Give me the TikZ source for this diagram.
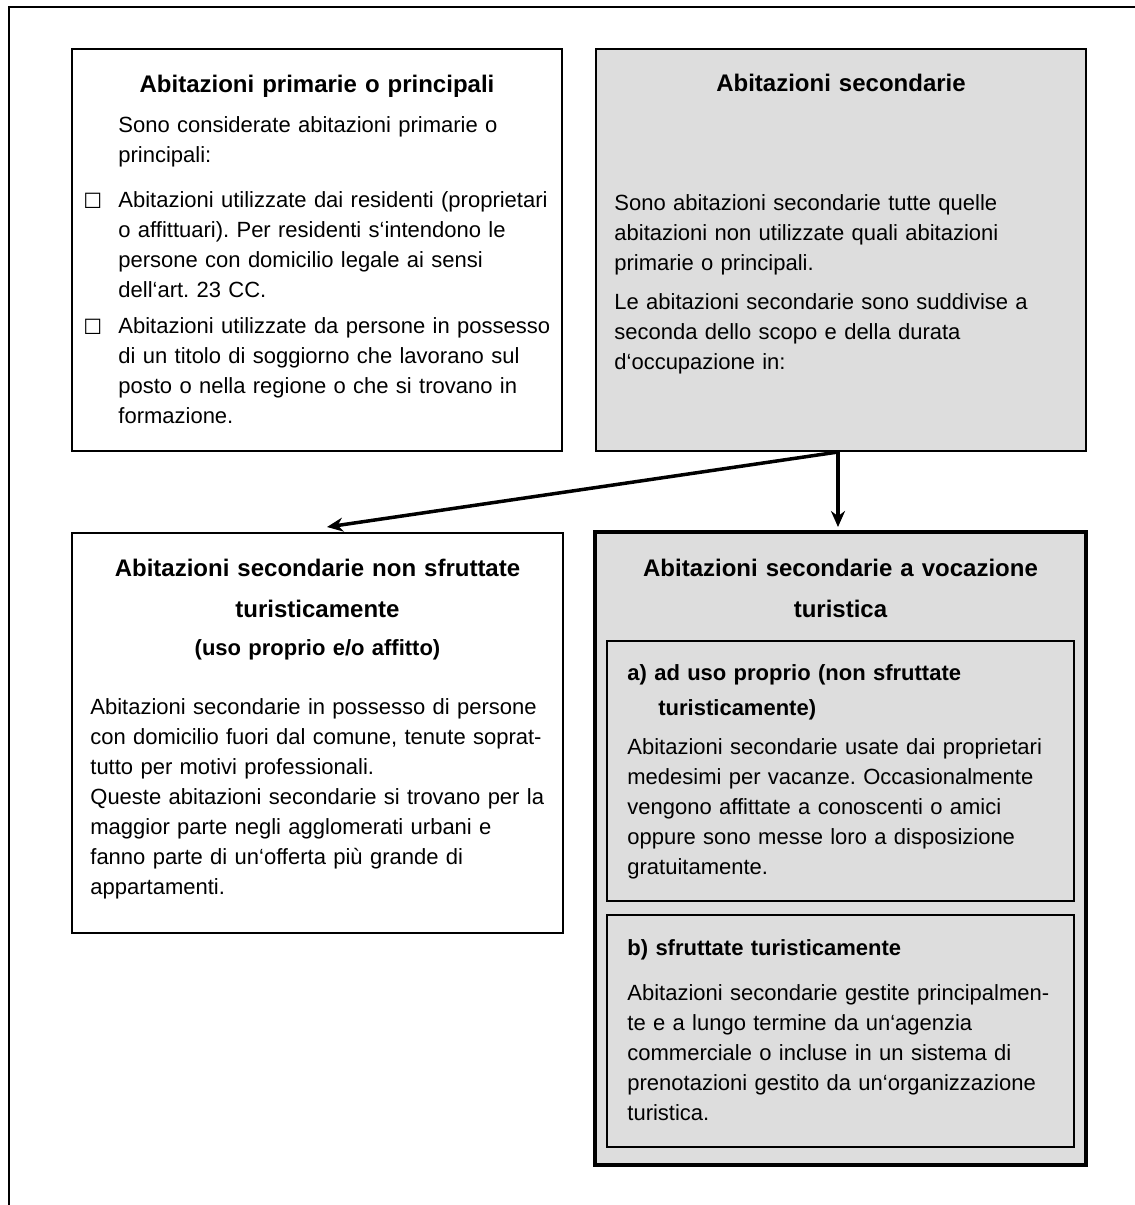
\documentclass[tikz,border=0pt]{standalone}
\usepackage{fontspec}
\setmainfont{Liberation Sans}
\newfontfamily\symfont{DejaVu Sans}
\frenchspacing
\usetikzlibrary{arrows.meta}
\definecolor{boxgrey}{HTML}{DDDDDD}
\tikzset{
  box/.style={draw, line width=1pt, inner sep=0pt},
  greybox/.style={box, fill=boxgrey},
  heavybox/.style={greybox, line width=2pt},
  title/.style={anchor=base, align=center, text width=240pt, inner sep=0pt, font=\bfseries\fontsize{12}{20.5}\selectfont},
  subhead/.style={anchor=base west, align=left, text width=240pt, inner sep=0pt, font=\bfseries\fontsize{11}{17.5}\selectfont},
  body/.style={anchor=base west, align=left, text width=240pt, inner sep=0pt, font=\fontsize{11}{15}\selectfont},
  tick/.style={anchor=base west, inner sep=0pt, font=\symfont\fontsize{10.5}{10.5}\selectfont},
  link/.style={->, line width=1.75pt},
}

\begin{document}
\begin{tikzpicture}[x=0.5pt, y=-0.5pt, >={Stealth[length=8pt,width=7pt]}]
  \useasboundingbox (0,0) rectangle (1135,1205);
  % frame
  \draw[line width=1pt] (9,1205) -- (9,7) -- (1135,7);

  % boxes
  \node[box, minimum width=245pt, minimum height=201pt] (prim) at (317,250) {};
  \node[greybox, minimum width=245pt, minimum height=201pt] (sec) at (841,250) {};
  \node[box, minimum width=245.5pt, minimum height=200pt] (nontour) at (317.5,733) {};
  \node[heavybox, minimum width=245.5pt, minimum height=316.5pt] (tour) at (840.5,848.5) {};
  \node[box, minimum width=233.5pt, minimum height=130pt] (own) at (840.5,771) {};
  \node[box, minimum width=233.5pt, minimum height=116pt] (rent) at (840.5,1031) {};

  % primary homes
  \node[title] (primT) at (317,92) {Abitazioni primarie o principali};
  \node[body] (primI) at (118,132) {Sono considerate abitazioni primarie o\\principali:};
  \node[tick] (primK1) at (83,208) {☐};
  \node[body] (primB1) at (118,207) {Abitazioni utilizzate dai residenti (proprietari\\o affittuari). Per residenti s‘intendono le\\persone con domicilio legale ai sensi\\dell‘art. 23 CC.};
  \node[tick] (primK2) at (83,334) {☐};
  \node[body] (primB2) at (118,333) {Abitazioni utilizzate da persone in possesso\\di un titolo di soggiorno che lavorano sul\\posto o nella regione o che si trovano in\\formazione.};

  % secondary homes
  \node[title] (secT) at (841,91) {Abitazioni secondarie};
  \node[body] (secP1) at (614,210) {Sono abitazioni secondarie tutte quelle\\abitazioni non utilizzate quali abitazioni\\primarie o principali.};
  \node[body] (secP2) at (614,309) {Le abitazioni secondarie sono suddivise a\\seconda dello scopo e della durata\\d‘occupazione in:};

  % not for tourists
  \node[title] (ntT) at (317.5,576) {Abitazioni secondarie non sfruttate\\turisticamente};
  \node[subhead, anchor=base, align=center] (ntS) at (317.5,655) {(uso proprio e/o affitto)};
  \node[body] (ntP) at (90,714) {Abitazioni secondarie in possesso di persone\\con domicilio fuori dal comune, tenute soprat-\\tutto per motivi professionali.\\Queste abitazioni secondarie si trovano per la\\maggior parte negli agglomerati urbani e\\fanno parte di un‘offerta più grande di\\appartamenti.};

  % for tourists
  \node[title] (tourT) at (840.5,576) {Abitazioni secondarie a vocazione\\turistica};
  \node[subhead] (ownS) at (627,680) {a) ad uso proprio (non sfruttate\\\hspace*{15.5pt}turisticamente)};
  \node[body] (ownP) at (627,754) {Abitazioni secondarie usate dai proprietari\\medesimi per vacanze. Occasionalmente\\vengono affittate a conoscenti o amici\\oppure sono messe loro a disposizione\\gratuitamente.};
  \node[subhead] (rentS) at (627,955) {b) sfruttate turisticamente};
  \node[body] (rentP) at (627,1000) {Abitazioni secondarie gestite principalmen-\\te e a lungo termine da un‘agenzia\\commerciale o incluse in un sistema di\\prenotazioni gestito da un‘organizzazione\\turistica.};

  % arrows
  \coordinate (fork) at ([xshift=-1.5pt]sec.south);
  \draw[link] (fork) -- ([yshift=1.5pt]fork |- tour.north);
  \draw[link] (fork) -- ([xshift=4.75pt,yshift=2.5pt]nontour.north);
\end{tikzpicture}
\end{document}
